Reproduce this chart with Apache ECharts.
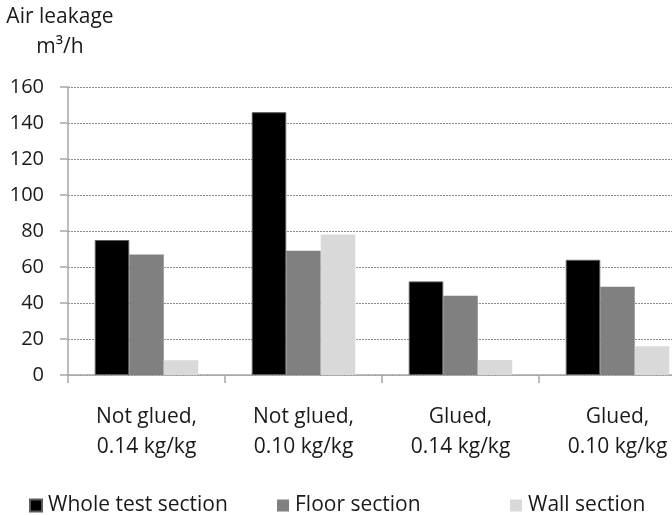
<!DOCTYPE html>
<html>
<head>
<meta charset="utf-8">
<script src="https://cdn.jsdelivr.net/npm/echarts@6/dist/echarts.min.js"></script>
<style>
  html, body { margin: 0; padding: 0; background: #fff; overflow: hidden; }
  /* the reference plot runs past the right edge, so the canvas is wider than the window */
  #chart { width: 700px; height: 515px; }
</style>
</head>
<body>
<div id="chart"></div>
<script>
// categories and values
var categories = ['Not glued,\n0.14 kg/kg', 'Not glued,\n0.10 kg/kg', 'Glued,\n0.14 kg/kg', 'Glued,\n0.10 kg/kg'];
var wholeSection = [75, 146, 52, 64];
var floorSection = [67, 69, 44, 49];
var wallSection = [8.2, 78, 8.4, 16];
var seriesNames = ['Whole test section', 'Floor section', 'Wall section'];
var seriesColors = ['#000000', '#808080', '#d9d9d9'];
var yTicks = { min: 0, max: 160, interval: 20 };

var font = 'Open Sans';
var textColor = '#1a1a1a';

var chart = echarts.init(document.getElementById('chart'));

function legendAt (name, left) {
  return {
    data: [name],
    left: left,
    top: 490,
    icon: 'rect',
    itemWidth: 12,
    itemHeight: 12,
    itemGap: 0,
    textStyle: { fontFamily: font, fontSize: 21, color: textColor, padding: [0, 0, 0, 1] },
    selectedMode: false
  }
}

var option = {
  animation: false,
  backgroundColor: '#fff',
  textStyle: { fontFamily: font },
  graphic: [{
    type: 'text',
    x: 60,
    y: 2,
    style: {
      text: 'Air leakage\nm³/h',
      textAlign: 'center',
      fontFamily: font,
      fontSize: 21,
      lineHeight: 30,
      fill: textColor
    }
  }],
  legend: [
    legendAt(seriesNames[0], 24),
    legendAt(seriesNames[1], 272),
    legendAt(seriesNames[2], 505)
  ],
  grid: { left: 68, right: 4, top: 87, bottom: 140 },
  xAxis: {
    type: 'category',
    data: categories,
    axisLine: { lineStyle: { color: '#a6a6a6', width: 1.5 } },
    axisTick: { show: true, length: 8, lineStyle: { color: '#a6a6a6', width: 1.5 } },
    axisLabel: {
      interval: 0,
      margin: 27,
      fontFamily: font,
      fontSize: 21,
      lineHeight: 30,
      color: textColor
    }
  },
  yAxis: {
    type: 'value',
    min: yTicks.min,
    max: yTicks.max,
    interval: yTicks.interval,
    axisLine: { show: true, lineStyle: { color: '#a6a6a6', width: 1.5 } },
    axisTick: { show: true, length: 8, lineStyle: { color: '#a6a6a6', width: 1.5 } },
    axisLabel: { margin: 24, fontFamily: font, fontSize: 20, color: textColor },
    splitLine: { show: true, lineStyle: { type: [2, 1], color: '#8c8c8c', width: 1 } }
  },
  series: [
    { name: seriesNames[0], type: 'bar', data: wholeSection, barWidth: 34.5, barGap: '0%',
      itemStyle: { color: seriesColors[0], borderColor: '#5a5a5a', borderWidth: 1 } },
    { name: seriesNames[1], type: 'bar', data: floorSection, barWidth: 34.5, barGap: '0%',
      itemStyle: { color: seriesColors[1] } },
    { name: seriesNames[2], type: 'bar', data: wallSection, barWidth: 34.5, barGap: '0%',
      itemStyle: { color: seriesColors[2] } }
  ]
};

chart.setOption(option);
</script>
</body>
</html>
